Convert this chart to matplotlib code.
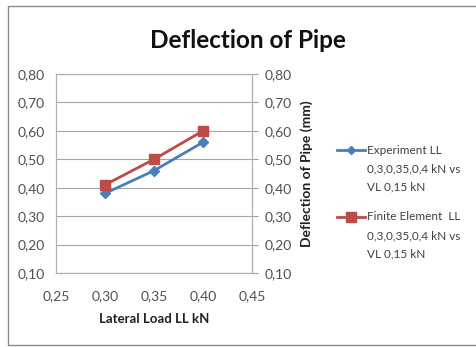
import matplotlib
matplotlib.use("Agg")
import matplotlib.pyplot as plt
from matplotlib.lines import Line2D

plt.rcParams['font.family'] = ['Lato', 'DejaVu Sans']

x_vals = [0.30, 0.35, 0.40]
experiment = [0.38, 0.46, 0.56]
finite_element = [0.41, 0.50, 0.60]
x_ticks = [0.25, 0.30, 0.35, 0.40, 0.45]
y_ticks = [0.10, 0.20, 0.30, 0.40, 0.50, 0.60, 0.70, 0.80]
label_exp = ["Experiment LL", "0,3,0,35,0,4 kN vs", "VL 0,15 kN"]
label_fe = ["Finite Element  LL", "0,3,0,35,0,4 kN vs", "VL 0,15 kN"]

W, H = 477, 347
fig = plt.figure(figsize=(W / 100, H / 100), dpi=100)
fig.patch.set_facecolor('white')

def fx(px):
    return px / W

def fy(py):
    return 1 - py / H

# outer chart border
border = plt.Rectangle((fx(8), fy(345)), 1.2, (345 - 6) / H, transform=fig.transFigure,
                       fill=False, edgecolor='#8c8c8c', linewidth=1.0)
fig.patches.append(border)

ax = fig.add_axes([fx(56), fy(273), (252 - 56) / W, (273 - 74) / H])
ax2 = ax.twinx()

c_blue = '#4A7EBB'
c_red = '#BE4B48'
l1, = ax.plot(x_vals, experiment, color=c_blue, lw=2, marker='D', ms=5.5)
l2, = ax.plot(x_vals, finite_element, color=c_red, lw=2, marker='s', ms=7.5)

def fmt(v):
    return f"{v:.2f}".replace('.', ',')

tick_col = '#505050'
for a in (ax, ax2):
    a.set_ylim(0.10, 0.80)
    a.set_yticks(y_ticks)
    a.set_yticklabels([fmt(v) for v in y_ticks], fontsize=10, color=tick_col)
    for s in a.spines.values():
        s.set_color('#b0b0b0')
        s.set_linewidth(0.8)

ax.set_xlim(0.25, 0.45)
ax.set_xticks(x_ticks)
ax.set_xticklabels([fmt(v) for v in x_ticks], fontsize=10, color=tick_col)
ax.tick_params(axis='y', length=0, pad=8)
ax.tick_params(axis='x', length=0, pad=12)
ax2.tick_params(axis='y', length=4, color='#a0a0a0', pad=5)
ax.grid(axis='y', color='#a6a6a6', linewidth=0.8)
ax.set_axisbelow(True)

ax.set_xlabel("Lateral Load LL kN", fontsize=9.5, fontweight='bold', color='#202020', labelpad=8)
ax2.set_ylabel("Deflection of Pipe (mm)", fontsize=10, fontweight='bold', color='#202020', labelpad=6)

fig.text(fx(248), fy(41), "Deflection of Pipe", fontsize=17.5, fontweight='bold',
         ha='center', va='center', color='#101010')

# legend, drawn in figure coordinates (Excel style: handle level with first line)
for lines, y0, color, marker, ms in [(label_exp, 150, c_blue, 'D', 4.5),
                                     (label_fe, 217, c_red, 's', 6.5)]:
    fig.lines.append(Line2D([fx(337), fx(365)], [fy(y0), fy(y0)], transform=fig.transFigure,
                            color=color, lw=2))
    fig.lines.append(Line2D([fx(351)], [fy(y0)], transform=fig.transFigure,
                            color=color, marker=marker, ms=ms, lw=0))
    for i, t in enumerate(lines):
        fig.text(fx(367), fy(y0 + i * 18.5), t, fontsize=8.5, color='#404040',
                 ha='left', va='center')

fig.savefig("out.png", dpi=100, facecolor='white')
